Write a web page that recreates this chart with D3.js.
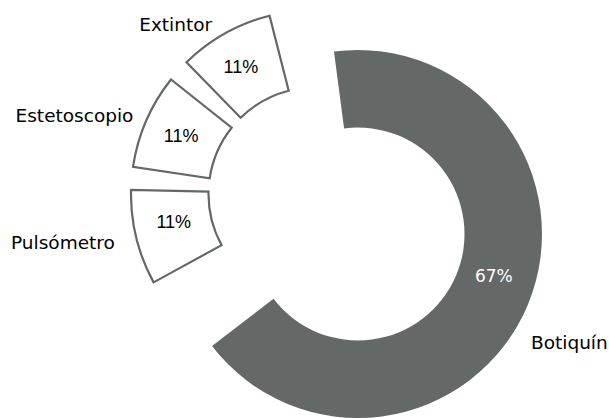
<!DOCTYPE html>
<html>
<head>
<meta charset="utf-8">
<script src="https://cdn.jsdelivr.net/npm/d3@7"></script>
<style>
  body { margin: 0; background: #fff; }
</style>
</head>
<body>
<svg id="chart" width="609" height="418"></svg>
<script>
// data
const categories = ["Botiquín", "Pulsómetro", "Estetoscopio", "Extintor"];
const values = [6, 1, 1, 1];

const deg = Math.PI / 180;
const center = [358, 234];
const explode = [-43, -40];      // the three small slices are pulled out together
const outerR = 184, innerR = 106.5;
const gray = "#646968";
const labelFont = "'DejaVu Sans', Verdana, sans-serif";

const svg = d3.select("#chart");
const total = d3.sum(values);
const pct = v => Math.round(v / total * 100) + "%";

const pie = d3.pie()
    .sort(null)
    .value(d => d.value)
    .startAngle(-7.5 * deg)
    .endAngle(352.5 * deg);

const arcs = pie(categories.map((c, i) => ({ name: c, value: values[i] })));

// small slices: squeezed a bit and separated by a gap
const pieMid = (arcs[1].startAngle + arcs[arcs.length - 1].endAngle) / 2;
const squeeze = 0.93, shrink = 0.75;
const slices = arcs.map(d => {
    if (d.index === 0) return Object.assign({}, d, { off: [0, 0] });
    const mid = (d.startAngle + d.endAngle) / 2;
    const m = pieMid + 1 * deg + (mid - pieMid) * squeeze;
    const half = (d.endAngle - d.startAngle) / 2 * shrink;
    return Object.assign({}, d, { startAngle: m - half, endAngle: m + half, off: explode });
});

const arc = d3.arc().innerRadius(innerR).outerRadius(outerR);

const g = svg.append("g").attr("transform", `translate(${center[0]},${center[1]})`);

const slice = g.selectAll("g.slice")
    .data(slices)
    .join("g")
    .attr("class", "slice")
    .attr("transform", d => `translate(${d.off[0]},${d.off[1]})`);

slice.append("path")
    .attr("d", arc)
    .attr("fill", d => d.index === 0 ? gray : "#fff")
    .attr("stroke", d => d.index === 0 ? "none" : gray)
    .attr("stroke-width", 2.2)
    .attr("stroke-linejoin", "miter");

// percentage labels (value labels sit around the middle of each ring piece)
const valueAngleNudge = [-5.5, 2.5, 0, -1];
const valueRadius = [142, 144, 146, 147];
slice.append("text")
    .attr("transform", d => {
        const a = (d.startAngle + d.endAngle) / 2 + valueAngleNudge[d.index] * deg;
        const r = valueRadius[d.index];
        return `translate(${r * Math.sin(a)},${-r * Math.cos(a)})`;
    })
    .attr("text-anchor", "middle")
    .attr("dominant-baseline", "central")
    .style("font-family", d => d.index === 0 ? labelFont : "'Liberation Sans', Arial, sans-serif")
    .style("font-size", d => d.index === 0 ? "17px" : "18px")
    .attr("fill", d => d.index === 0 ? "#fff" : "#000")
    .text(d => pct(d.value));

// category labels outside the ring
const labelAngleNudge = [9.5, 0, 0, -2];
const labelRadius = [204, 206, 198, 198];
slice.append("text")
    .attr("transform", d => {
        const a = (d.startAngle + d.endAngle) / 2 + labelAngleNudge[d.index] * deg;
        const r = labelRadius[d.index];
        return `translate(${r * Math.sin(a)},${-r * Math.cos(a)})`;
    })
    .attr("text-anchor", d => Math.sin((d.startAngle + d.endAngle) / 2) < 0 ? "end" : "start")
    .attr("dominant-baseline", "central")
    .style("font-family", labelFont)
    .style("font-size", "18.5px")
    .attr("fill", "#000")
    .text(d => d.data.name);
</script>
</body>
</html>
